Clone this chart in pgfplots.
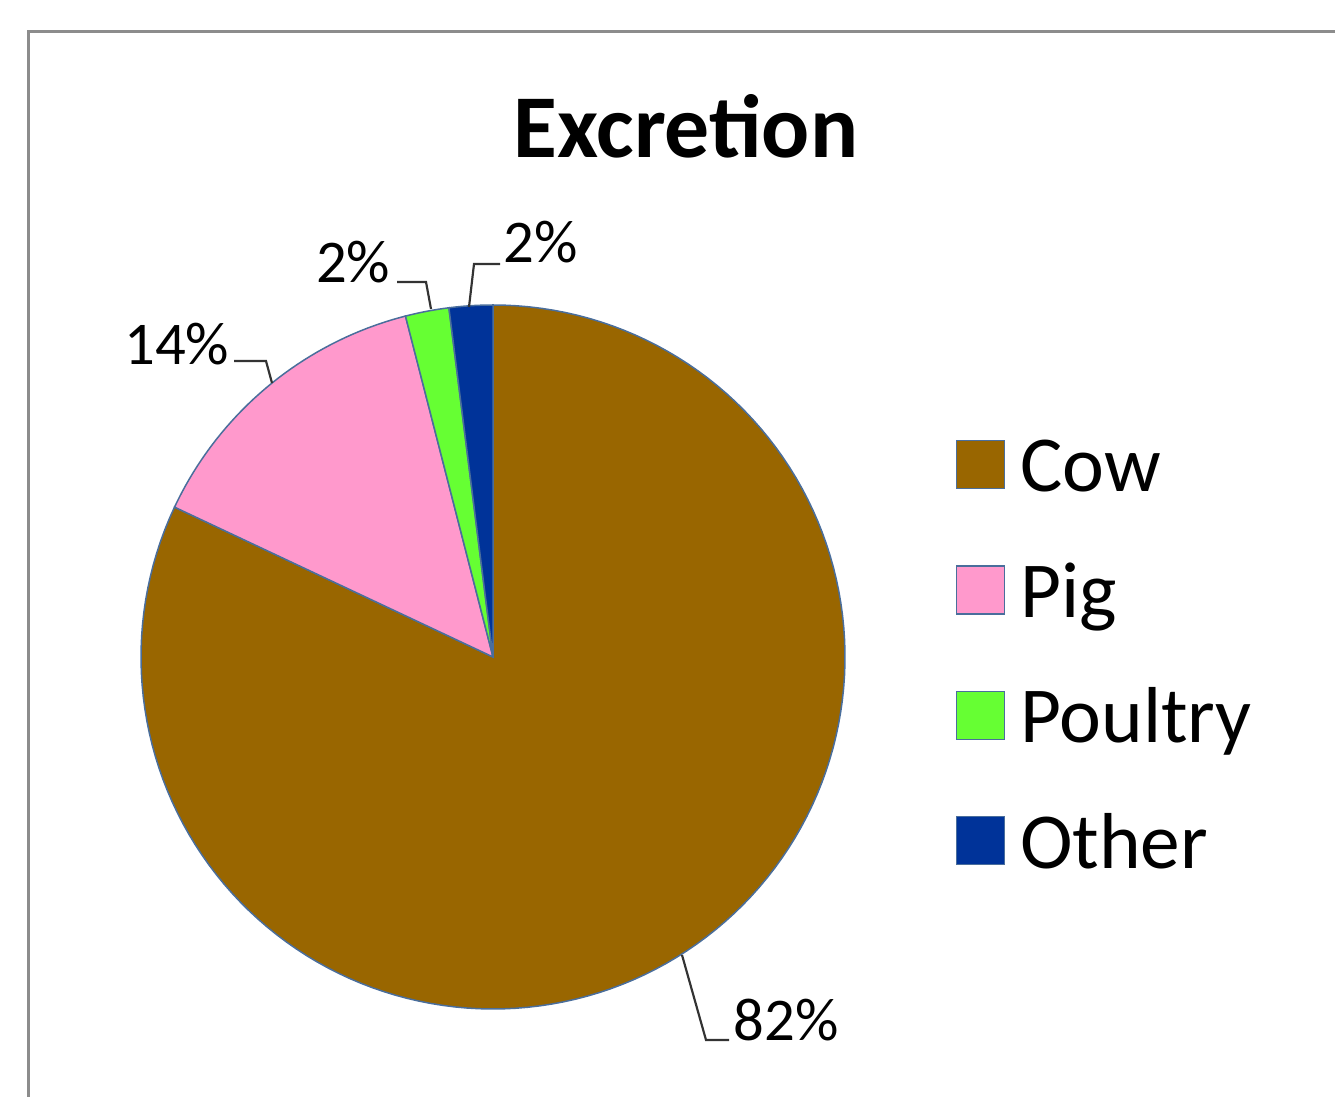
\documentclass[border=0pt]{standalone}
\usepackage{pgfplots}
\pgfplotsset{compat=1.18}
\usepackage{fontspec}
\setmainfont{Carlito}
\definecolor{cowc}{HTML}{996600}
\definecolor{pigc}{HTML}{FF99CC}
\definecolor{poulc}{HTML}{66FF33}
\definecolor{othc}{HTML}{003399}
\definecolor{edgec}{HTML}{4A6E9C}
\definecolor{framec}{HTML}{8C8C8C}
% shares (percent)
\def\vCow{82}
\def\vPig{14}
\def\vPoultry{2}
\def\vOther{2}
\pgfmathsetmacro{\aA}{90}
\pgfmathsetmacro{\aB}{\aA-3.6*\vCow}
\pgfmathsetmacro{\aC}{\aB-3.6*\vPig}
\pgfmathsetmacro{\aD}{\aC-3.6*\vPoultry}
\pgfmathsetmacro{\aE}{\aD-3.6*\vOther}
\begin{document}
\begin{tikzpicture}
\useasboundingbox (0,0) rectangle (400.5pt,328.8pt);
\clip (0,0) rectangle (400.5pt,328.8pt);
\begin{axis}[
  at={(0,0)}, anchor=south west,
  scale only axis, width=400.5pt, height=328.8pt,
  xmin=0, xmax=1335, ymin=0, ymax=1096,
  hide axis, clip=false,
  legend style={at={(axis cs:955,658)}, anchor=north west, draw=none, fill=none,
    inner sep=0pt, row sep=16.6pt, column sep=4.5pt,
    font=\fontsize{23.8}{26}\selectfont,
    nodes={inner sep=0pt, text height=16pt, text depth=5pt}},
  legend cell align=left,
  legend image code/.code={\draw[#1] (0pt,-4.5pt) rectangle (14.4pt,9.9pt);},
]
\draw[framec, line width=0.9pt] (axis cs:28,1064) rectangle (axis cs:1400,-60);
\addplot[fill=cowc, draw=edgec, line width=0.45pt, domain=\aB:\aA, samples=150, variable=\t]
  ({493+352*cos(\t)},{439+352*sin(\t)}) -- (axis cs:493,439) -- cycle;
\addlegendentry{Cow}
\addplot[fill=pigc, draw=edgec, line width=0.45pt, domain=\aC:\aB, samples=40, variable=\t]
  ({493+352*cos(\t)},{439+352*sin(\t)}) -- (axis cs:493,439) -- cycle;
\addlegendentry{Pig}
\addplot[fill=poulc, draw=edgec, line width=0.45pt, domain=\aD:\aC, samples=10, variable=\t]
  ({493+352*cos(\t)},{439+352*sin(\t)}) -- (axis cs:493,439) -- cycle;
\addlegendentry{Poultry}
\addplot[fill=othc, draw=edgec, line width=0.45pt, domain=\aE:\aD, samples=10, variable=\t]
  ({493+352*cos(\t)},{439+352*sin(\t)}) -- (axis cs:493,439) -- cycle;
\addlegendentry{Other}
% title
\node[font=\bfseries\fontsize{26.9}{30}\selectfont, anchor=base, inner sep=0pt] at (axis cs:686,938) {Excretion};
% data labels and leaders
\draw[black!80, line width=0.65pt] (axis cs:682,141) -- (axis cs:706,56) -- (axis cs:729,56);
\node[font=\fontsize{18.2}{20}\selectfont, anchor=base west, inner sep=0pt] at (axis cs:733,56) {\vCow\%};
\draw[black!80, line width=0.65pt] (axis cs:272,713) -- (axis cs:266,735) -- (axis cs:234,735);
\node[font=\fontsize{18.2}{20}\selectfont, anchor=base east, inner sep=0pt] at (axis cs:230,731) {\vPig\%};
\draw[black!80, line width=0.65pt] (axis cs:431,787) -- (axis cs:426,814) -- (axis cs:397,814);
\node[font=\fontsize{18.2}{20}\selectfont, anchor=base east, inner sep=0pt] at (axis cs:391,813) {\vPoultry\%};
\draw[black!80, line width=0.65pt] (axis cs:469,789) -- (axis cs:474,832) -- (axis cs:500,832);
\node[font=\fontsize{18.2}{20}\selectfont, anchor=base west, inner sep=0pt] at (axis cs:503,833) {\vOther\%};
\end{axis}
\end{tikzpicture}
\end{document}
